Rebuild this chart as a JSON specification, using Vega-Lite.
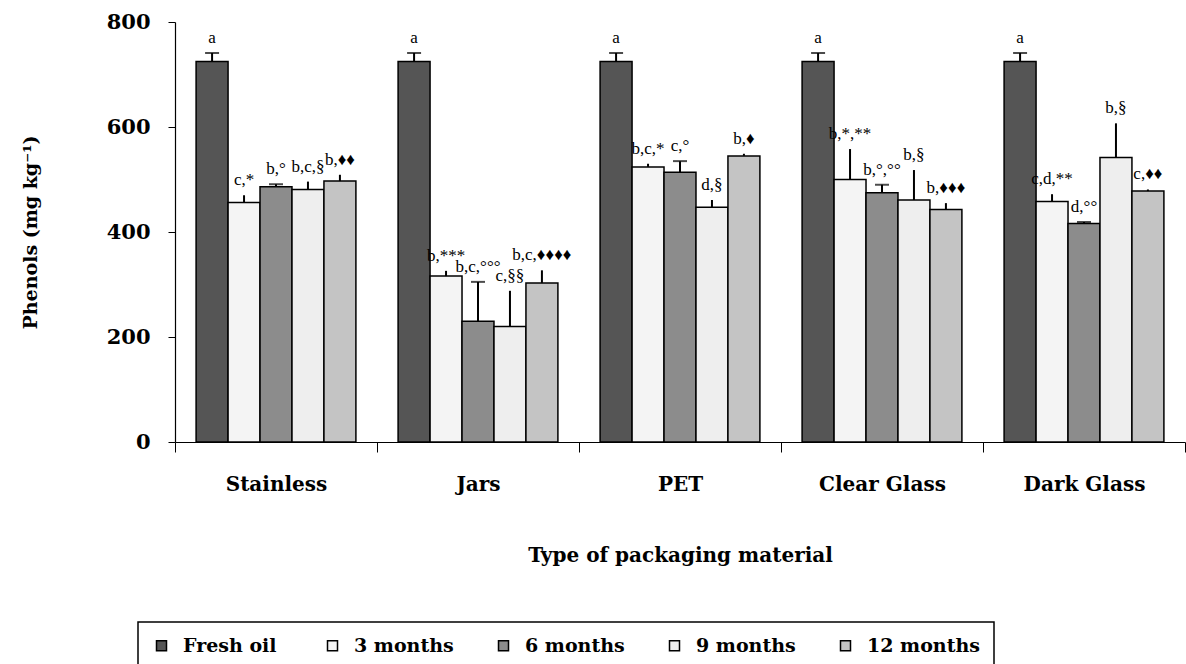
{
  "$schema": "https://vega.github.io/schema/vega-lite/v6.json",
  "width": 1010,
  "height": 420,
  "autosize": {"type": "none"},
  "padding": {"left": 175, "top": 22, "right": 1, "bottom": 222},
  "background": "white",
  "config": {
    "view": {"stroke": null},
    "font": "DejaVu Serif",
    "legend": {"strokeWidth": 1.5}
  },
  "data": {
    "values": [
      {"material": "Stainless", "series": "Fresh oil", "value": 725, "upper": 741, "label": "a"},
      {"material": "Stainless", "series": "3 months", "value": 456, "upper": 470, "label": "c,*"},
      {"material": "Stainless", "series": "6 months", "value": 486, "upper": 491, "label": "b,°"},
      {"material": "Stainless", "series": "9 months", "value": 481, "upper": 496, "label": "b,c,§"},
      {"material": "Stainless", "series": "12 months", "value": 497, "upper": 509, "label": "b,♦♦"},
      {"material": "Jars", "series": "Fresh oil", "value": 725, "upper": 741, "label": "a"},
      {"material": "Jars", "series": "3 months", "value": 316, "upper": 326, "label": "b,***"},
      {"material": "Jars", "series": "6 months", "value": 230, "upper": 305, "label": "b,c,°°°"},
      {"material": "Jars", "series": "9 months", "value": 220, "upper": 288, "label": "c,§§"},
      {"material": "Jars", "series": "12 months", "value": 303, "upper": 327, "label": "b,c,♦♦♦♦"},
      {"material": "PET", "series": "Fresh oil", "value": 725, "upper": 741, "label": "a"},
      {"material": "PET", "series": "3 months", "value": 524, "upper": 530, "label": "b,c,*"},
      {"material": "PET", "series": "6 months", "value": 514, "upper": 535, "label": "c,°"},
      {"material": "PET", "series": "9 months", "value": 447, "upper": 461, "label": "d,§"},
      {"material": "PET", "series": "12 months", "value": 545, "upper": 549, "label": "b,♦"},
      {"material": "Clear Glass", "series": "Fresh oil", "value": 725, "upper": 741, "label": "a"},
      {"material": "Clear Glass", "series": "3 months", "value": 500, "upper": 558, "label": "b,*,**"},
      {"material": "Clear Glass", "series": "6 months", "value": 475, "upper": 490, "label": "b,°,°°"},
      {"material": "Clear Glass", "series": "9 months", "value": 461, "upper": 518, "label": "b,§"},
      {"material": "Clear Glass", "series": "12 months", "value": 443, "upper": 455, "label": "b,♦♦♦"},
      {"material": "Dark Glass", "series": "Fresh oil", "value": 725, "upper": 741, "label": "a"},
      {"material": "Dark Glass", "series": "3 months", "value": 458, "upper": 472, "label": "c,d,**"},
      {"material": "Dark Glass", "series": "6 months", "value": 416, "upper": 419, "label": "d,°°"},
      {"material": "Dark Glass", "series": "9 months", "value": 542, "upper": 607, "label": "b,§"},
      {"material": "Dark Glass", "series": "12 months", "value": 478, "upper": 481, "label": "c,♦♦"}
    ]
  },
  "encoding": {
    "x": {
      "field": "material",
      "type": "nominal",
      "sort": ["Stainless", "Jars", "PET", "Clear Glass", "Dark Glass"],
      "scale": {"paddingInner": 0, "paddingOuter": 0},
      "axis": {
        "title": "Type of packaging material",
        "tickBand": "extent",
        "labelAngle": 0,
        "labelFont": "DejaVu Serif",
        "labelFontWeight": "bold",
        "labelFontSize": 20,
        "labelColor": "black",
        "labelPadding": 22,
        "tickSize": 10,
        "tickColor": "black",
        "tickWidth": 1,
        "domainColor": "black",
        "domainWidth": 1.2,
        "titleFont": "DejaVu Serif",
        "titleFontSize": 20,
        "titleFontWeight": "bold",
        "titleColor": "black",
        "titlePadding": 51
      }
    },
    "xOffset": {
      "field": "series",
      "sort": ["Fresh oil", "3 months", "6 months", "9 months", "12 months"],
      "scale": {"paddingInner": 0, "paddingOuter": 0.66}
    }
  },
  "layer": [
    {
      "mark": {"type": "bar", "stroke": "black", "strokeWidth": 1.5},
      "encoding": {
        "y": {
          "field": "value",
          "type": "quantitative",
          "scale": {"domain": [0, 800]},
          "axis": {
            "title": "Phenols (mg kg⁻¹)",
            "values": [0, 200, 400, 600, 800],
            "grid": false,
            "tickSize": 7,
            "tickColor": "black",
            "domainColor": "black",
            "domainWidth": 1.2,
            "labelPadding": 18,
            "labelFont": "DejaVu Serif",
            "labelFontWeight": "bold",
            "labelFontSize": 21,
            "labelColor": "black",
            "titleFont": "DejaVu Serif",
            "titleFontSize": 19,
            "titleFontWeight": "bold",
            "titleColor": "black",
            "titlePadding": 66
          }
        },
        "fill": {
          "field": "series",
          "type": "nominal",
          "sort": ["Fresh oil", "3 months", "6 months", "9 months", "12 months"],
          "scale": {
            "domain": ["Fresh oil", "3 months", "6 months", "9 months", "12 months"],
            "range": ["#555555", "#f4f4f4", "#8c8c8c", "#eeeeee", "#c4c4c4"]
          },
          "legend": {
            "title": null,
            "orient": "none",
            "legendX": -37,
            "legendY": 600,
            "direction": "horizontal",
            "strokeColor": "black",
            "padding": 14,
            "symbolType": "square",
            "symbolSize": 100,
            "symbolStrokeColor": "black",
            "symbolStrokeWidth": 1.5,
            "labelFont": "DejaVu Serif",
            "labelFontWeight": "bold",
            "labelFontSize": 19,
            "labelColor": "black",
            "labelOffset": 12,
            "labelLimit": 300,
            "columnPadding": 27,
            "gridAlign": "all"
          }
        }
      }
    },
    {
      "mark": {"type": "rule", "strokeWidth": 2, "color": "black"},
      "encoding": {
        "y": {"field": "value", "type": "quantitative"},
        "y2": {"field": "upper"}
      }
    },
    {
      "transform": [{"filter": {"field": "series", "oneOf": ["Fresh oil", "6 months"]}}],
      "mark": {"type": "tick", "color": "black", "thickness": 2, "size": 14, "orient": "horizontal"},
      "encoding": {
        "y": {"field": "upper", "type": "quantitative"}
      }
    },
    {
      "mark": {"type": "text", "baseline": "bottom", "dy": -6, "fontSize": 17, "font": "Liberation Serif", "color": "black"},
      "encoding": {
        "y": {"field": "upper", "type": "quantitative"},
        "text": {"field": "label"}
      }
    }
  ]
}
